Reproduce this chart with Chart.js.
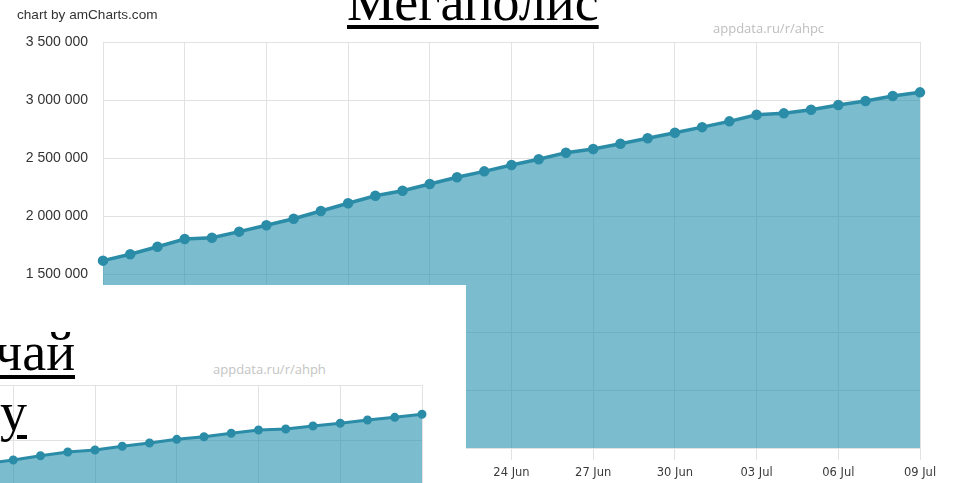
<!DOCTYPE html>
<html>
<head>
<meta charset="utf-8">
<script src="https://cdn.jsdelivr.net/npm/chart.js@4/dist/chart.umd.min.js"></script>
<style>
  body { margin: 0; background: #fff; }
  #wrap { position: relative; width: 953px; height: 483px; overflow: hidden; }
  .note { position: absolute; white-space: nowrap; font-family: "Liberation Sans", Arial, sans-serif; }
  .link { position: absolute; white-space: nowrap; font-family: "Liberation Serif", "Times New Roman", serif;
          font-size: 54px; line-height: 54px; color: #000; text-decoration: underline;
          text-decoration-thickness: 4px; text-underline-offset: 5px; }
  #inset { position: absolute; left: 0; top: 285px; width: 466px; height: 198px; background: #fff; overflow: hidden; }
</style>
</head>
<body>
<div id="wrap">
  <canvas id="main" width="953" height="483"></canvas>
  <div class="note" style="left:17px;top:7px;font-size:13.6px;color:#333">chart by amCharts.com</div>
  <div class="note" style="left:713px;top:19px;font-size:13px;color:#bdbdbd;font-family:'Open Sans',sans-serif">appdata.ru/r/ahpc</div>
  <div id="inset">
    <canvas id="small" width="444" height="220" style="position:absolute;left:-14px;top:100px"></canvas>
    <div class="note" style="left:213px;top:75px;font-size:13px;color:#c4c4c4;font-family:'Open Sans',sans-serif">appdata.ru/r/ahph</div>
  </div>
  <div class="link" style="left:347px;top:-25px">Мегаполис</div>
  <div class="link" style="left:-5px;top:325px">чай</div>
  <div class="link" style="left:0px;top:385px">у</div>
</div>
<script>
// main chart: 09 Jun - 09 Jul
const days = ["09 Jun", "10 Jun", "11 Jun", "12 Jun", "13 Jun", "14 Jun", "15 Jun", "16 Jun", "17 Jun", "18 Jun",
  "19 Jun", "20 Jun", "21 Jun", "22 Jun", "23 Jun", "24 Jun", "25 Jun", "26 Jun", "27 Jun", "28 Jun",
  "29 Jun", "30 Jun", "01 Jul", "02 Jul", "03 Jul", "04 Jul", "05 Jul", "06 Jul", "07 Jul", "08 Jul", "09 Jul"];
const users = [1615000, 1670000, 1735000, 1802000, 1813000, 1865000, 1920000, 1976000, 2043000, 2110000,
  2175000, 2218000, 2276000, 2334000, 2385000, 2440000, 2489000, 2546000, 2578000, 2623000,
  2670000, 2718000, 2766000, 2816000, 2873000, 2885000, 2916000, 2957000, 2991000, 3034000, 3066000];

// inset chart (ahph): 23 Jun - 09 Jul
const insetDays = ["23 Jun", "24 Jun", "25 Jun", "26 Jun", "27 Jun", "28 Jun", "29 Jun", "30 Jun", "01 Jul",
  "02 Jul", "03 Jul", "04 Jul", "05 Jul", "06 Jul", "07 Jul", "08 Jul", "09 Jul"];
const insetUsers = [1286000, 1318000, 1357000, 1391000, 1409000, 1443000, 1473000, 1506000, 1530000,
  1561000, 1591000, 1600000, 1627000, 1652000, 1682000, 1706000, 1734000];

const lineCol = "#2b8ca8";
const fillCol = "rgba(35,143,173,0.6)";
const gridCol = "#e2e2e2";

function spaced(v) {
  return String(v).replace(/\B(?=(\d{3})+(?!\d))/g, " ");
}

new Chart(document.getElementById("main"), {
  type: "line",
  data: {
    labels: days,
    datasets: [{
      data: users,
      borderColor: lineCol,
      backgroundColor: fillCol,
      pointBackgroundColor: lineCol,
      pointBorderColor: lineCol,
      borderWidth: 3.5,
      pointRadius: 3.5,
      fill: "origin",
      tension: 0,
      clip: false
    }]
  },
  options: {
    responsive: false,
    animation: false,
    layout: { autoPadding: false, padding: { top: 42, right: 33, left: 0, bottom: 0 } },
    plugins: { legend: { display: false }, tooltip: { enabled: false } },
    scales: {
      x: {
        border: { display: false },
        grid: {
          color: c => (c.index % 3 === 0 ? gridCol : "transparent"),
          tickLength: 12
        },
        ticks: {
          autoSkip: false,
          maxRotation: 0,
          padding: 6,
          color: "#3a3a3a",
          font: { family: "DejaVu Sans", size: 11.5 },
          callback: function (v, i) { return i % 3 === 0 ? days[i] : ""; }
        },
        afterFit: s => { s.height = 35; }
      },
      y: {
        min: 0,
        max: 3500000,
        border: { display: false },
        grid: { color: gridCol, drawTicks: false },
        ticks: {
          stepSize: 500000,
          padding: 15,
          color: "#333",
          font: { family: "Liberation Sans", size: 14 },
          callback: v => spaced(v)
        },
        afterFit: s => { s.width = 103; }
      }
    }
  }
});

new Chart(document.getElementById("small"), {
  type: "line",
  data: {
    labels: insetDays,
    datasets: [{
      data: insetUsers,
      borderColor: lineCol,
      backgroundColor: fillCol,
      pointBackgroundColor: lineCol,
      pointBorderColor: lineCol,
      borderWidth: 3,
      pointRadius: 3,
      fill: "origin",
      tension: 0,
      clip: false
    }]
  },
  options: {
    responsive: false,
    animation: false,
    layout: { autoPadding: false, padding: { top: 0, right: 8, left: 0, bottom: 0 } },
    plugins: { legend: { display: false }, tooltip: { enabled: false } },
    scales: {
      x: {
        border: { display: false },
        grid: {
          color: c => (c.index % 3 === 1 ? gridCol : "transparent"),
          drawTicks: false
        },
        ticks: { display: false, autoSkip: false }
      },
      y: {
        min: 0,
        max: 2000000,
        border: { display: false },
        grid: { color: gridCol, drawTicks: false },
        ticks: { display: false, stepSize: 500000 }
      }
    }
  }
});
</script>
</body>
</html>
